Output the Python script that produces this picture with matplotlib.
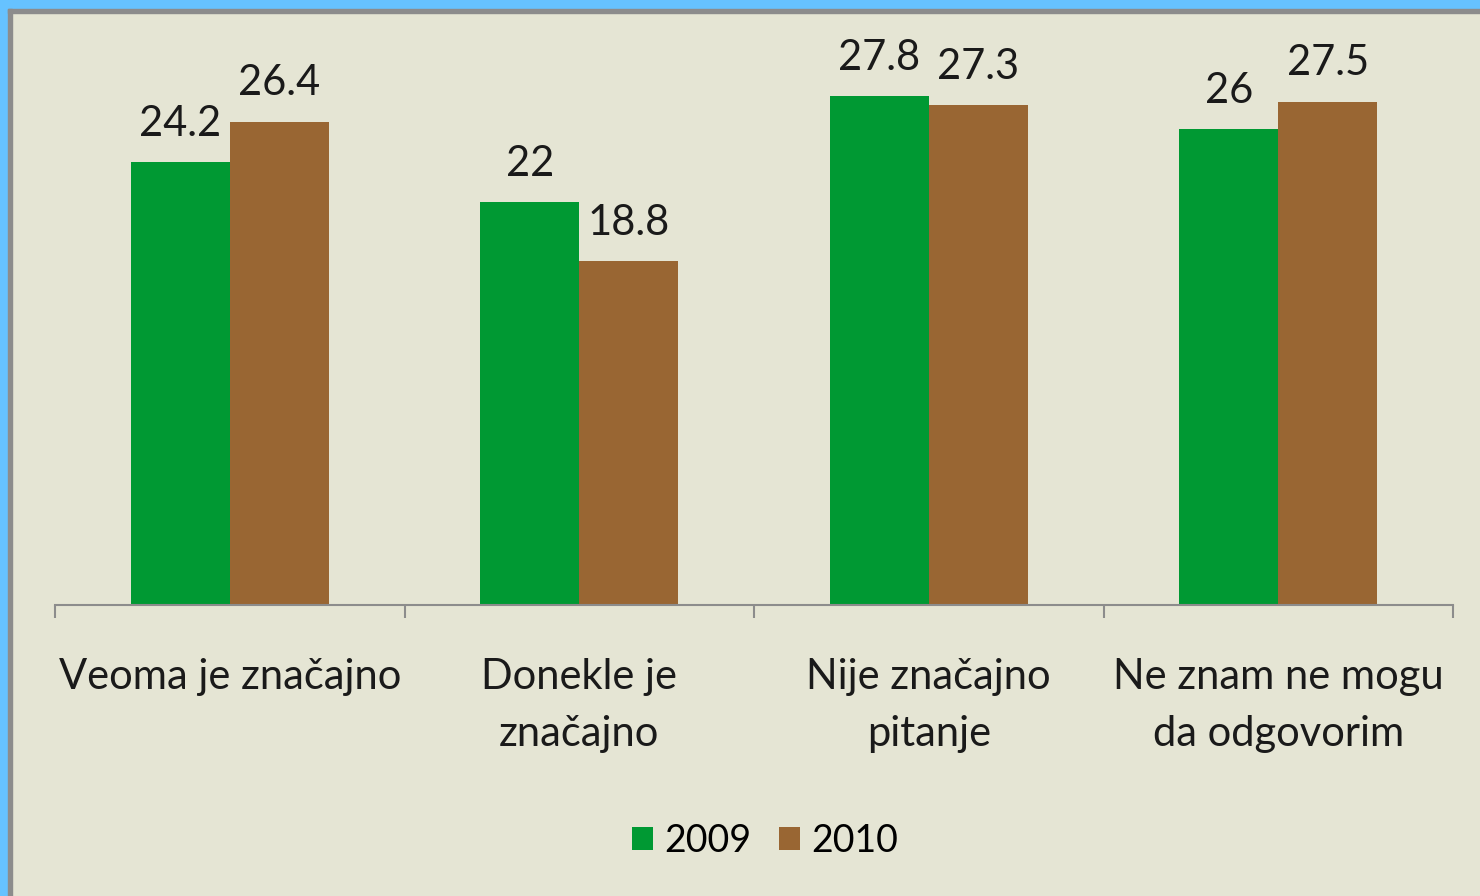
import matplotlib
matplotlib.use("Agg")
import matplotlib.pyplot as plt
from matplotlib.patches import Rectangle
import numpy as np

categories = ["Veoma je značajno", "Donekle je\nznačajno", "Nije značajno\npitanje", "Ne znam ne mogu\nda odgovorim"]
years = ["2009", "2010"]
vals_2009 = [24.2, 22, 27.8, 26]
vals_2010 = [26.4, 18.8, 27.3, 27.5]

green = "#009933"
brown = "#996633"
bg = "#E5E5D4"

plt.rcParams['font.family'] = ['Lato', 'DejaVu Sans']

W, H = 1480, 896
fig = plt.figure(figsize=(W / 100, H / 100), dpi=100, facecolor=bg)

# blue frame + gray inner line (top and left only)
fig.patches.append(Rectangle((0, 1 - 9 / H), 1, 9 / H, transform=fig.transFigure, color="#66C2FF", zorder=0))
fig.patches.append(Rectangle((0, 0), 8 / W, 1, transform=fig.transFigure, color="#66C2FF", zorder=0))
fig.patches.append(Rectangle((8 / W, 1 - 13 / H), 1, 4 / H, transform=fig.transFigure, color="#8C8C8C", zorder=1))
fig.patches.append(Rectangle((8 / W, 0), 4 / W, 1 - 9 / H, transform=fig.transFigure, color="#8C8C8C", zorder=1))

ax = fig.add_axes([55 / W, (H - 605) / H, (1453 - 55) / W, (605 - 56) / H])
ax.set_facecolor(bg)

x = np.arange(len(categories))
w = 0.283
b1 = ax.bar(x - w / 2, vals_2009, w, color=green, label=years[0], zorder=2)
b2 = ax.bar(x + w / 2, vals_2010, w, color=brown, label=years[1], zorder=2)

for bars, vals in ((b1, vals_2009), (b2, vals_2010)):
    for r, v in zip(bars, vals):
        ax.annotate(f"{v:g}", (r.get_x() + r.get_width() / 2, r.get_height()),
                    xytext=(0, 14), textcoords="offset points",
                    ha="center", va="bottom", fontsize=30, color="#1a1a1a")

ax.set_xlim(-0.5, 3.5)
ax.set_ylim(0, 30)
ax.set_yticks([])
for s in ("top", "right", "left"):
    ax.spines[s].set_visible(False)
ax.spines["bottom"].set_color("#8C8C8C")
ax.spines["bottom"].set_linewidth(1.5)

ax.set_xticks(x)
ax.set_xticklabels(categories, fontsize=30, color="#1a1a1a", linespacing=1.62)
ax.tick_params(axis="x", which="major", length=0, pad=38)
ax.set_xticks(np.arange(-0.5, 4, 1), minor=True)
ax.tick_params(axis="x", which="minor", length=9, width=1.5, color="#8C8C8C")

leg = fig.legend(handles=[b1, b2], labels=years, loc="center", bbox_to_anchor=(765 / W, (H - 841) / H),
                 ncol=2, frameon=False, fontsize=27, handlelength=0.55, handleheight=0.55,
                 handletextpad=0.3, columnspacing=0.75)

fig.savefig("out.png", dpi=100, facecolor=bg)
